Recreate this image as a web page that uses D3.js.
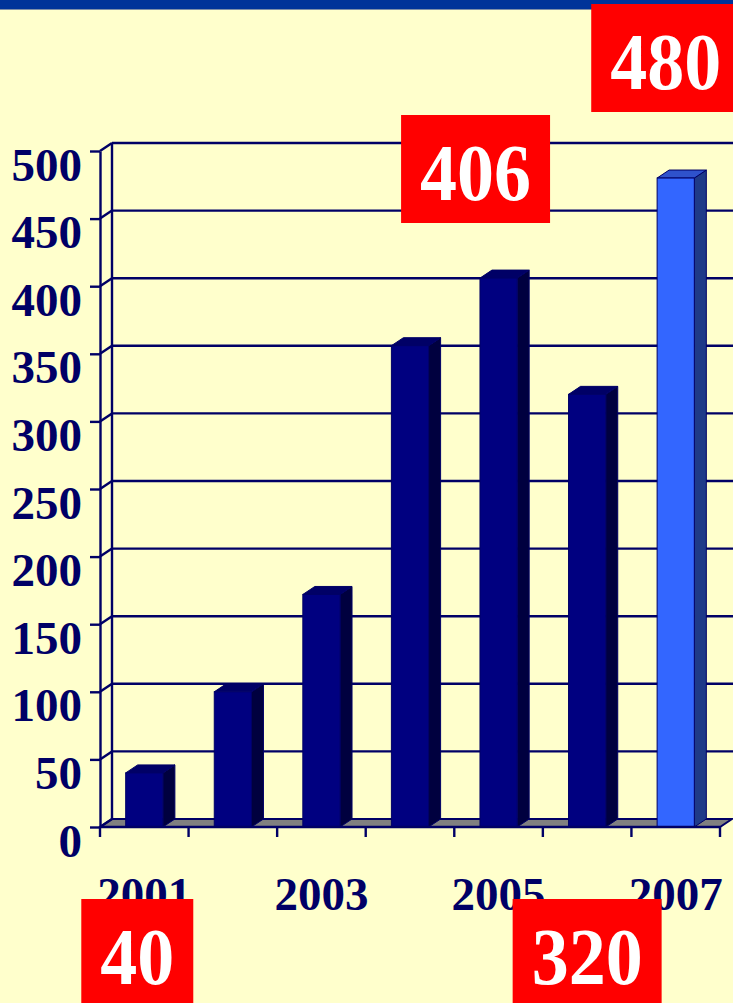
<!DOCTYPE html>
<html>
<head>
<meta charset="utf-8">
<script src="https://cdn.jsdelivr.net/npm/d3@7"></script>
<style>
  html, body { margin: 0; padding: 0; background: #FFFFCC; }
  svg { display: block; }
</style>
</head>
<body>
<svg id="chart" width="733" height="1003"></svg>
<script>
// data
const years = ['2001', '2002', '2003', '2004', '2005', '2006', '2007'];
const values = [40, 100, 172, 356, 406, 320, 480];
const yTicks = [0, 50, 100, 150, 200, 250, 300, 350, 400, 450, 500];
const xLabels = ['2001', '2003', '2005', '2007'];
const callYears = ['2007', '2005', '2001', '2006'];
const callText = ['480', '406', '40', '320'];

const navy = '#000066';
const serif = '"Liberation Serif", "Times New Roman", serif';

const svg = d3.select('#chart');
const W = +svg.attr('width');

// header band
svg.append('rect').attr('x', 0).attr('y', 0).attr('width', W).attr('height', 9).attr('fill', '#003399');
svg.append('rect').attr('x', 0).attr('y', 9).attr('width', W).attr('height', 1).attr('fill', '#7F8FA8');

const x = d3.scaleBand().domain(years).range([100, 720]);
const y = d3.scaleLinear().domain([0, 500]).range([827, 151]);
const dx = 12, dy = -8;
const barW = x.bandwidth() * 0.42;

const g = svg.append('g');

// floor
const x0 = x.range()[0], x1 = x.range()[1];
g.append('polygon')
  .attr('points', [[x0, y(0)], [x1, y(0)], [x1 + dx, y(0) + dy], [x0 + dx, y(0) + dy]].join(' '))
  .attr('fill', '#808080').attr('stroke', navy).attr('stroke-width', 2);

// back wall grid + side wall diagonals
const grid = g.append('g').attr('stroke', navy).attr('stroke-width', 2.4);
grid.selectAll('.gl').data(yTicks.filter(d => d > 0)).enter().append('line')
  .attr('x1', x0 + dx).attr('x2', W + 5)
  .attr('y1', d => y(d) + dy).attr('y2', d => y(d) + dy);
grid.selectAll('.dg').data(yTicks).enter().append('line')
  .attr('x1', x0).attr('x2', x0 + dx)
  .attr('y1', d => y(d)).attr('y2', d => y(d) + dy);
grid.append('line').attr('x1', x0 + dx).attr('x2', x0 + dx)
  .attr('y1', y(0) + dy).attr('y2', y(500) + dy);

// bars
const bars = g.selectAll('.bar').data(years.map((d, i) => ({year: d, v: values[i], last: i === years.length - 1})))
  .enter().append('g').attr('class', 'bar');
bars.each(function(d) {
  const b = d3.select(this);
  const bx = x(d.year) + x.bandwidth() / 2 - barW / 2;
  const top = y(d.v), base = y(0);
  const cFront = d.last ? '#3366FF' : '#000080';
  const cSide = d.last ? '#1F3A88' : '#00003F';
  const cTop = d.last ? '#2F52CC' : '#000066';
  b.append('polygon')
    .attr('points', [[bx + barW, top], [bx + barW + dx, top + dy], [bx + barW + dx, base + dy], [bx + barW, base]].join(' '))
    .attr('fill', cSide).attr('stroke', navy).attr('stroke-width', 1);
  b.append('polygon')
    .attr('points', [[bx, top], [bx + dx, top + dy], [bx + barW + dx, top + dy], [bx + barW, top]].join(' '))
    .attr('fill', cTop).attr('stroke', navy).attr('stroke-width', 1);
  b.append('rect').attr('x', bx).attr('y', top).attr('width', barW).attr('height', base - top)
    .attr('fill', cFront).attr('stroke', navy).attr('stroke-width', 1);
});

// y axis
const yAxis = g.append('g').attr('transform', 'translate(' + x0 + ',0)')
  .call(d3.axisLeft(y).tickValues(yTicks).tickSize(10).tickSizeOuter(0).tickPadding(8));
yAxis.selectAll('path, line').attr('stroke', navy).attr('stroke-width', 2.4);
yAxis.selectAll('text')
  .attr('y', 14)
  .attr('fill', navy)
  .style('font-family', serif).style('font-weight', 'bold').style('font-size', '47px');

// x axis
const xg = g.append('g').attr('stroke', navy).attr('stroke-width', 2.4);
xg.append('line').attr('x1', x0).attr('x2', x1).attr('y1', y(0)).attr('y2', y(0));
xg.selectAll('.tk').data(years.map(d => x(d)).concat([x1])).enter().append('line')
  .attr('x1', d => d).attr('x2', d => d).attr('y1', y(0)).attr('y2', y(0) + 10);
g.selectAll('.xl').data(xLabels).enter().append('text')
  .attr('x', d => x(d) + x.bandwidth() / 2)
  .attr('y', 910)
  .attr('text-anchor', 'middle')
  .attr('fill', navy)
  .style('font-family', serif).style('font-weight', 'bold').style('font-size', '47px')
  .text(d => d);

// callouts
const callPos = {'2007': [-10, 4], '2005': [-23, 115], '2001': [-7, 899], '2006': [0, 899]};
callYears.forEach((yr, i) => {
  const c = svg.append('g');
  const cx = x(yr) + x.bandwidth() / 2 + callPos[yr][0];
  const top = callPos[yr][1];
  const rect = c.append('rect').attr('fill', '#FF0000');
  const t = c.append('text')
    .attr('transform', 'translate(' + cx + ',' + (top + 85) + ') scale(1,1.08)')
    .attr('text-anchor', 'middle')
    .attr('fill', '#FFFFFF')
    .style('font-family', serif).style('font-weight', 'bold').style('font-size', '74px')
    .text(callText[i]);
  const w = t.node().getComputedTextLength() + 38;
  rect.attr('x', cx - w / 2).attr('y', top).attr('width', w).attr('height', 108);
});
</script>
</body>
</html>
